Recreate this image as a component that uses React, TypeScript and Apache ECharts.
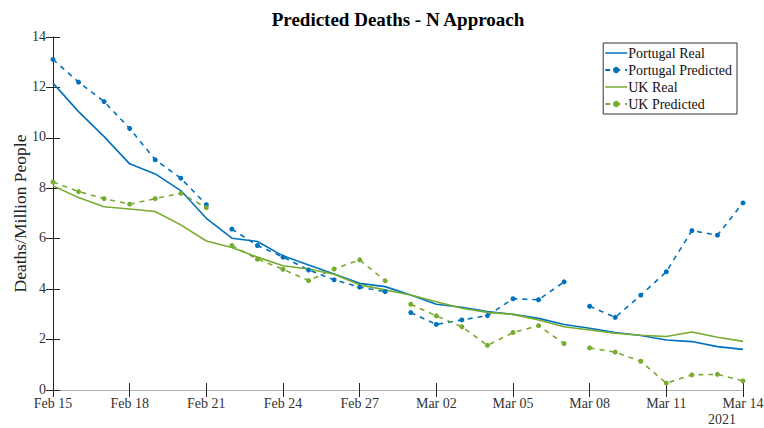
import React, { useEffect, useRef } from "react";
import * as echarts from "echarts";

const tickLabels = ["Feb 15", "Feb 18", "Feb 21", "Feb 24", "Feb 27", "Mar 02", "Mar 05", "Mar 08", "Mar 11", "Mar 14"];
const yearLabel = "2021";

const portugalReal = [12.17, 11.04, 10.05, 8.97, 8.57, 7.91, 6.81, 6.02, 5.89, 5.32, 4.96, 4.6, 4.23, 4.1, 3.77, 3.4, 3.28, 3.11, 3.0, 2.84, 2.6, 2.45, 2.28, 2.16, 1.98, 1.92, 1.72, 1.61];
const ukReal = [8.1, 7.63, 7.27, 7.18, 7.08, 6.55, 5.91, 5.65, 5.27, 4.93, 4.8, 4.59, 4.17, 3.97, 3.77, 3.5, 3.24, 3.08, 3.0, 2.78, 2.51, 2.38, 2.25, 2.17, 2.12, 2.3, 2.09, 1.93];
const portugalPredicted = [13.11, 12.21, 11.44, 10.37, 9.13, 8.4, 7.35, 6.38, 5.73, 5.27, 4.76, 4.37, 4.08, 3.9, 3.07, 2.6, 2.78, 2.95, 3.62, 3.58, 4.29, 3.32, 2.88, 3.76, 4.69, 6.32, 6.14, 7.42];
const ukPredicted = [8.25, 7.87, 7.59, 7.37, 7.59, 7.8, 7.23, 5.73, 5.19, 4.79, 4.34, 4.8, 5.16, 4.33, 3.4, 2.94, 2.51, 1.77, 2.28, 2.55, 1.84, 1.67, 1.5, 1.14, 0.27, 0.6, 0.62, 0.36];
const segmentStarts = [0, 7, 14, 21];
const segmentLength = 7;

const BLUE = "#0072BD";
const GREEN = "#77AC30";
const FONT = "Liberation Serif";
const LINE_ICON = "path://M0,0 L44,0 L44,3 L0,3 Z";

function realSeries(name: string, values: number[], color: string) {
  return {
    name,
    type: "line",
    data: values.map((v, i) => [i, v]),
    showSymbol: false,
    symbol: "none",
    lineStyle: { color, width: 1.6 },
    itemStyle: { color },
    xAxisIndex: 0,
    yAxisIndex: 0,
  };
}

function predictedSeries(name: string, values: number[], color: string) {
  return segmentStarts.map((s) => ({
    name,
    type: "line",
    data: values.slice(s, s + segmentLength).map((v, k) => [s + k, v]),
    symbol: "circle",
    symbolSize: 5,
    showSymbol: true,
    lineStyle: { color, width: 1.6, type: [5, 5] },
    itemStyle: { color },
    xAxisIndex: 0,
    yAxisIndex: 0,
  }));
}

export default function App() {
  const ref = useRef<HTMLDivElement>(null);
  useEffect(() => {
    if (!ref.current) return;
    const chart = echarts.init(ref.current, undefined, { renderer: "svg" });
    chart.setOption({
      animation: false,
      backgroundColor: "#fff",
      textStyle: { fontFamily: FONT },
      grid: { left: 53, right: 21, top: 37, bottom: 38, containLabel: false, outerBoundsMode: "none" },
      graphic: [
        {
          type: "text",
          x: 398,
          y: 19,
          style: {
            text: "Predicted Deaths - N Approach",
            font: `bold 19px "${FONT}"`,
            fill: "#000",
            textAlign: "center",
            textVerticalAlign: "middle",
          },
        },
        {
          type: "text",
          x: 722,
          y: 419,
          style: {
            text: yearLabel,
            font: `14px "${FONT}"`,
            fill: "#333",
            textAlign: "center",
            textVerticalAlign: "middle",
          },
        },
      ],
      legend: {
        right: 27,
        top: 43,
        orient: "vertical",
        data: [
          { name: "Portugal Real", icon: LINE_ICON },
          { name: "Portugal Predicted" },
          { name: "UK Real", icon: LINE_ICON },
          { name: "UK Predicted" },
        ],
        itemWidth: 22,
        itemHeight: 8,
        itemGap: 3,
        padding: [3, 5, 3, 1],
        borderColor: "#333",
        borderWidth: 1,
        backgroundColor: "#fff",
        borderRadius: 0,
        textStyle: { fontFamily: FONT, fontSize: 14, color: "#111", padding: [0, 0, 0, -4] },
      },
      xAxis: [
        {
          type: "value",
          min: 0,
          max: 27,
          interval: 3,
          position: "bottom",
          axisLine: { show: true, lineStyle: { color: "#b0b0b0", width: 1 } },
          axisTick: { show: true, inside: true, length: 7, lineStyle: { color: "#222" } },
          axisLabel: {
            formatter: (v: number) => tickLabels[Math.round(v / 3)] ?? "",
            fontFamily: FONT,
            fontSize: 14,
            color: "#333",
            margin: 6,
          },
          splitLine: { show: false },
        },
        {
          type: "value",
          min: 0,
          max: 27,
          interval: 3,
          position: "top",
          axisLine: { show: true, lineStyle: { color: "#b0b0b0", width: 1 } },
          axisTick: { show: true, inside: true, length: 7, lineStyle: { color: "#222" } },
          axisLabel: { show: false },
          splitLine: { show: false },
        },
      ],
      yAxis: [
        {
          type: "value",
          min: 0,
          max: 14,
          interval: 2,
          position: "left",
          name: "Deaths/Million People",
          nameLocation: "middle",
          nameGap: 24,
          nameMoveOverlap: false,
          nameTextStyle: { fontFamily: FONT, fontSize: 17.5, color: "#222" },
          axisLine: { show: true, lineStyle: { color: "#222", width: 1 } },
          axisTick: { show: true, inside: true, length: 7, lineStyle: { color: "#222" } },
          axisLabel: { fontFamily: FONT, fontSize: 14, color: "#333", margin: 7, verticalAlign: "bottom", padding: [0, 0, -6, 0] },
          splitLine: { show: false },
        },
        {
          type: "value",
          min: 0,
          max: 14,
          interval: 2,
          position: "right",
          axisLine: { show: true, lineStyle: { color: "#222", width: 1 } },
          axisTick: { show: true, inside: true, length: 7, lineStyle: { color: "#222" } },
          axisLabel: { show: false },
          splitLine: { show: false },
        },
      ],
      series: [
        realSeries("Portugal Real", portugalReal, BLUE),
        ...predictedSeries("Portugal Predicted", portugalPredicted, BLUE),
        realSeries("UK Real", ukReal, GREEN),
        ...predictedSeries("UK Predicted", ukPredicted, GREEN),
      ],
    });
    return () => chart.dispose();
  }, []);
  return <div ref={ref} style={{ position: "fixed", left: 0, top: 0, width: 764, height: 428 }} />;
}
